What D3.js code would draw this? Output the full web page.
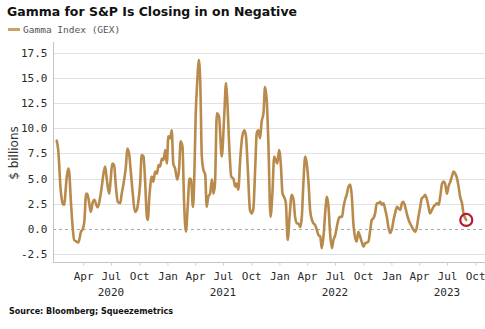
<!DOCTYPE html>
<html>
<head>
<meta charset="utf-8">
<script src="https://cdn.jsdelivr.net/npm/d3@7"></script>
<style>
  html, body { margin: 0; padding: 0; background: #fff; }
  svg { display: block; }
</style>
</head>
<body>
<svg id="chart" width="485" height="329"></svg>
<script>
// Gamma Index (GEX), $ billions
const dates = [
  "2020-01-06","2020-01-11","2020-01-19","2020-01-26","2020-01-30","2020-02-08","2020-02-13","2020-02-16","2020-02-21","2020-02-27",
  "2020-03-03","2020-03-11","2020-03-17","2020-03-25","2020-03-31","2020-04-05","2020-04-11","2020-04-15","2020-04-21","2020-04-26",
  "2020-05-03","2020-05-08","2020-05-14","2020-05-19","2020-05-27","2020-06-01","2020-06-06","2020-06-12","2020-06-17","2020-06-25",
  "2020-06-30","2020-07-05","2020-07-11","2020-07-17","2020-07-23","2020-07-31","2020-08-05","2020-08-13","2020-08-19","2020-08-23",
  "2020-08-29","2020-09-03","2020-09-10","2020-09-17","2020-09-23","2020-09-28","2020-10-04","2020-10-09","2020-10-15","2020-10-20",
  "2020-10-26","2020-10-29","2020-11-03","2020-11-11","2020-11-16","2020-11-22","2020-11-28","2020-12-03","2020-12-08","2020-12-14",
  "2020-12-19","2020-12-25","2020-12-30","2021-01-04","2021-01-10","2021-01-15","2021-01-20","2021-01-26","2021-02-02","2021-02-08",
  "2021-02-13","2021-02-19","2021-02-24","2021-03-02","2021-03-08","2021-03-14","2021-03-19","2021-03-25","2021-03-29","2021-04-03",
  "2021-04-09","2021-04-13","2021-04-18","2021-04-23","2021-04-28","2021-05-04","2021-05-09","2021-05-14","2021-05-20","2021-05-26",
  "2021-05-31","2021-06-05","2021-06-11","2021-06-18","2021-06-27","2021-07-05","2021-07-11","2021-07-15","2021-07-22","2021-07-28",
  "2021-08-04","2021-08-10","2021-08-15","2021-08-20","2021-08-26","2021-09-02","2021-09-09","2021-09-14","2021-09-20","2021-09-27",
  "2021-10-03","2021-10-08","2021-10-14","2021-10-19","2021-10-24","2021-10-30","2021-11-04","2021-11-10","2021-11-15","2021-11-21",
  "2021-11-26","2021-12-03","2021-12-09","2021-12-15","2021-12-20","2021-12-25","2021-12-31","2022-01-06","2022-01-11","2022-01-16",
  "2022-01-22","2022-01-28","2022-02-03","2022-02-10","2022-02-16","2022-02-21","2022-02-27","2022-03-04","2022-03-10","2022-03-15",
  "2022-03-20","2022-03-26","2022-03-31","2022-04-06","2022-04-11","2022-04-17","2022-04-22","2022-04-27","2022-05-03","2022-05-08",
  "2022-05-14","2022-05-19","2022-05-25","2022-05-30","2022-06-05","2022-06-10","2022-06-15","2022-06-21","2022-06-26","2022-07-02",
  "2022-07-07","2022-07-12","2022-07-18","2022-07-24","2022-07-29","2022-08-03","2022-08-09","2022-08-14","2022-08-20","2022-08-25",
  "2022-08-30","2022-09-05","2022-09-10","2022-09-15","2022-09-21","2022-09-26","2022-10-02","2022-10-08","2022-10-13","2022-10-18",
  "2022-10-24","2022-10-29","2022-11-03","2022-11-09","2022-11-14","2022-11-20","2022-11-25","2022-12-01","2022-12-06","2022-12-12",
  "2022-12-17","2022-12-22","2022-12-28","2023-01-03","2023-01-08","2023-01-13","2023-01-19","2023-01-24","2023-01-30","2023-02-04",
  "2023-02-09","2023-02-15","2023-02-20","2023-02-26","2023-03-03","2023-03-09","2023-03-14","2023-03-20","2023-03-25","2023-03-30",
  "2023-04-05","2023-04-10","2023-04-16","2023-04-21","2023-04-27","2023-05-02","2023-05-07","2023-05-13","2023-05-18","2023-05-24",
  "2023-05-29","2023-06-04","2023-06-09","2023-06-15","2023-06-20","2023-06-25","2023-07-01","2023-07-06","2023-07-12","2023-07-17",
  "2023-07-23","2023-07-28","2023-08-03","2023-08-08","2023-08-13","2023-08-19","2023-08-24","2023-08-30","2023-09-02"
];

const gex = [
  8.77, 7.85, 3.9, 2.5, 2.4, 5.2, 6.0, 5.6, 2.9, 0.2,
  -1.1, -1.25, -1.35, -0.27, 0.0, 0.7, 3.5, 3.5, 2.55, 1.7,
  2.7, 2.9, 2.4, 2.15, 3.2, 4.2, 5.4, 6.2, 5.0, 3.5,
  4.9, 6.5, 6.35, 4.2, 2.7, 2.55, 3.5, 4.9, 6.35, 8.0,
  7.5, 5.9, 3.5, 1.7, 1.9, 2.7, 4.5, 7.35, 7.2, 4.9,
  1.2, 0.9, 3.2, 5.2, 4.7, 5.7, 5.5, 6.35, 6.2, 7.0,
  6.85, 7.85, 6.5, 9.2, 9.0, 9.8, 6.5, 6.0, 4.9, 6.0,
  8.7, 8.2, 2.9, -0.27, 2.2, 5.0, 4.9, 2.2, 4.5, 11.2,
  15.1, 16.8, 14.5, 7.2, 5.9, 5.4, 2.2, 3.2, 3.5, 4.9,
  3.5, 4.5, 11.5, 11.2, 7.2, 11.2, 14.5, 12.8, 7.85, 5.2,
  5.0, 4.2, 4.5, 3.9, 6.85, 9.2, 9.8, 9.2, 5.9, 1.9,
  1.55, 2.0, 6.0, 9.5, 9.8, 9.0, 10.65, 11.5, 14.1, 12.6,
  8.5, 1.2, 3.5, 7.2, 6.85, 6.5, 7.85, 6.2, 3.5, 3.2,
  2.55, -1.1, 1.2, 3.4, 2.9, 1.2, 0.55, 0.55, 0.2, 1.2,
  4.5, 7.2, 6.5, 4.5, 1.9, 0.9, 0.55, 0.4, -0.1, -0.6,
  -0.75, -1.9, -0.6, 1.55, 3.2, 2.2, -0.4, -1.9, -1.1, -0.6,
  0.2, 0.9, 1.2, 1.2, 2.2, 2.9, 3.5, 4.2, 4.4, 3.2,
  0.55, -0.9, -1.25, -0.27, -0.75, -1.25, -1.75, -1.4, -1.35, -1.25,
  -0.1, 0.9, 1.05, 1.55, 2.55, 2.55, 2.7, 2.4, 2.55, 1.9,
  1.2, 0.2, -0.4, 0.05, 0.9, 1.55, 2.2, 2.05, 1.9, 2.55,
  2.7, 2.2, 1.55, 0.9, 0.55, 0.2, -0.1, -0.27, 0.2, 1.2,
  2.2, 3.05, 3.2, 3.4, 2.9, 2.2, 1.55, 1.9, 2.2, 2.4,
  2.55, 2.4, 3.2, 4.5, 4.7, 4.5, 3.5, 4.2, 4.7, 5.2,
  5.7, 5.5, 5.0, 4.2, 3.2, 2.55, 1.55, 1.05, 0.9
];

const yTicks = [-2.5, 0, 2.5, 5, 7.5, 10, 12.5, 15, 17.5];
const quarterTicks = [
  "2020-04-01","2020-07-01","2020-10-01","2021-01-01","2021-04-01","2021-07-01","2021-10-01",
  "2022-01-01","2022-04-01","2022-07-01","2022-10-01","2023-01-01","2023-04-01","2023-07-01","2023-10-01"
];
const yearLabels = ["2020", "2021", "2022", "2023"];

const titleText = "Gamma for S&P Is Closing in on Negative";
const legendText = "Gamma Index (GEX)";
const yAxisTitle = "$ billions";
const sourceText = "Source: Bloomberg; Squeezemetrics";

const lineColor = "#b88a4c";
const parse = d3.utcParse("%Y-%m-%d");
const series = dates.map((d, i) => ({ date: parse(d), value: gex[i] }));

const svg = d3.select("#chart");
const plot = { left: 53, right: 485, top: 42, bottom: 262 };

const x = d3.scaleUtc()
  .domain([Date.UTC(2019, 11, 25), Date.UTC(2023, 10, 2)])
  .range([plot.left, plot.right]);

const y = d3.scaleLinear()
  .domain([-3.28, 18.57])
  .range([plot.bottom, plot.top]);

// horizontal gridlines (zero drawn dashed)
svg.append("g")
  .selectAll("line")
  .data(yTicks.filter(v => v !== 0))
  .join("line")
  .attr("x1", plot.left).attr("x2", plot.right)
  .attr("y1", d => Math.round(y(d)) + 0.5).attr("y2", d => Math.round(y(d)) + 0.5)
  .attr("stroke", "#e2e2e2").attr("stroke-width", 1);

svg.append("line")
  .attr("x1", plot.left).attr("x2", plot.right)
  .attr("y1", Math.round(y(0)) + 0.5).attr("y2", Math.round(y(0)) + 0.5)
  .attr("stroke", "#a8a8a8").attr("stroke-width", 1)
  .attr("stroke-dasharray", "3,3");

// y axis
const yAxis = d3.axisLeft(y)
  .tickValues(yTicks)
  .tickSize(0)
  .tickPadding(6)
  .tickFormat(d => d.toFixed(1));

const gy = svg.append("g")
  .attr("transform", `translate(${plot.left + 0.5},0)`)
  .call(yAxis);
gy.select(".domain").attr("stroke", "#c4c4c4").attr("d", `M0,${plot.top}V${plot.bottom}`);
gy.selectAll("text")
  .attr("font-family", "'DejaVu Sans Mono', monospace")
  .attr("font-size", 11)
  .attr("fill", "#2a2a2a");

// x axis
const xAxis = d3.axisBottom(x)
  .tickValues(quarterTicks.map(parse))
  .tickSize(3)
  .tickPadding(7)
  .tickFormat(d3.utcFormat("%b"));

const gx = svg.append("g")
  .attr("transform", `translate(0,${plot.bottom + 0.5})`)
  .call(xAxis);
gx.select(".domain").attr("stroke", "#c4c4c4").attr("d", `M${plot.left},0H${plot.right}`);
gx.selectAll(".tick line").attr("stroke", "#d0d0d0");
gx.selectAll("text")
  .attr("font-family", "'DejaVu Sans Mono', monospace")
  .attr("font-size", 11)
  .attr("fill", "#2a2a2a");

svg.append("g")
  .selectAll("text")
  .data(yearLabels)
  .join("text")
  .attr("x", d => x(Date.UTC(+d, 6, 1)))
  .attr("y", 296)
  .attr("text-anchor", "middle")
  .attr("font-family", "'DejaVu Sans Mono', monospace")
  .attr("font-size", 11)
  .attr("fill", "#2a2a2a")
  .text(d => d);

// series line
const line = d3.line()
  .x(d => x(d.date))
  .y(d => y(d.value))
  .curve(d3.curveMonotoneX);

svg.append("path")
  .datum(series)
  .attr("d", line)
  .attr("fill", "none")
  .attr("stroke", lineColor)
  .attr("stroke-width", 2.6)
  .attr("stroke-linejoin", "round")
  .attr("stroke-linecap", "round");

// highlight on latest reading
const last = series[series.length - 1];
svg.append("circle")
  .attr("cx", x(last.date))
  .attr("cy", y(last.value))
  .attr("r", 6)
  .attr("fill", "none")
  .attr("stroke", "#b51b2e")
  .attr("stroke-width", 2.2);

// title
svg.append("text")
  .attr("x", 7).attr("y", 16)
  .attr("font-family", "'DejaVu Sans', sans-serif")
  .attr("font-weight", "bold")
  .attr("font-size", 13)
  .attr("fill", "#111")
  .attr("textLength", 290)
  .attr("lengthAdjust", "spacingAndGlyphs")
  .text(titleText);

// legend
svg.append("line")
  .attr("x1", 8).attr("x2", 20)
  .attr("y1", 29.5).attr("y2", 29.5)
  .attr("stroke", "#c9a466").attr("stroke-width", 3);
svg.append("text")
  .attr("x", 23).attr("y", 33)
  .attr("font-family", "'DejaVu Sans Mono', monospace")
  .attr("font-size", 9.5)
  .attr("fill", "#555")
  .text(legendText);

// y axis title
svg.append("text")
  .attr("transform", `translate(18,${153}) rotate(-90)`)
  .attr("text-anchor", "middle")
  .attr("font-family", "'DejaVu Sans', sans-serif")
  .attr("font-size", 12)
  .attr("fill", "#333")
  .text(yAxisTitle);

// source
svg.append("text")
  .attr("x", 9).attr("y", 314)
  .attr("font-family", "'DejaVu Sans', sans-serif")
  .attr("font-weight", "bold")
  .attr("font-size", 8)
  .attr("fill", "#111")
  .attr("textLength", 164)
  .attr("lengthAdjust", "spacingAndGlyphs")
  .text(sourceText);
</script>
</body>
</html>
